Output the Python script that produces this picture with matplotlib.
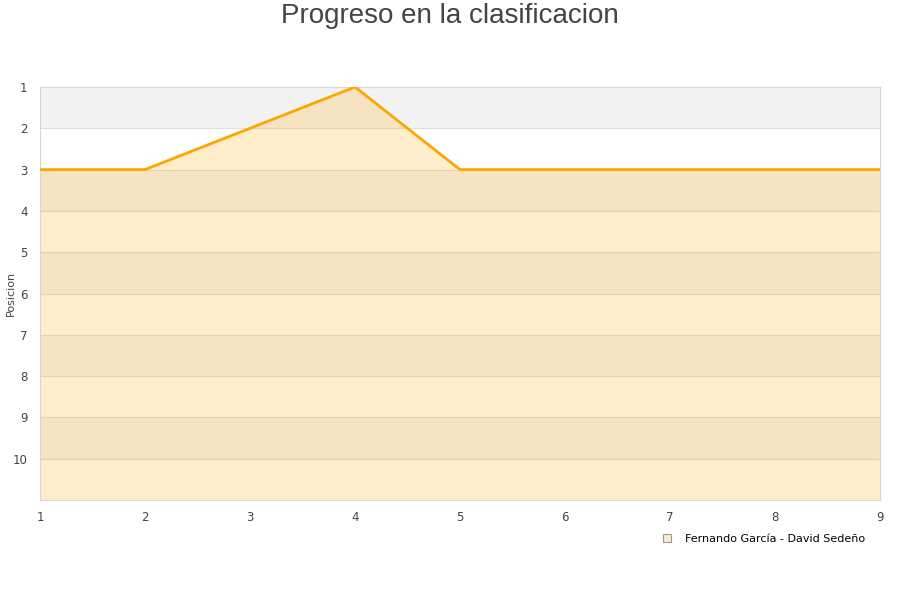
import matplotlib
matplotlib.use("Agg")
import matplotlib.pyplot as plt
from matplotlib.lines import Line2D

# data
jornadas = [1, 2, 3, 4, 5, 6, 7, 8, 9]
posicion = [3, 3, 2, 1, 3, 3, 3, 3, 3]
pareja = "Fernando García - David Sedeño"

ORANGE = "#FFA500"
GRID = "#dedede"
TEXT = "#444444"

fig = plt.figure(figsize=(9, 6), dpi=100)
ax = fig.add_axes([40 / 900, 100 / 600, 840 / 900, 413 / 600])

y_min, y_max = 1, 11
ax.set_xlim(jornadas[0], jornadas[-1])
ax.set_ylim(y_max, y_min)

# alternating horizontal bands
for lo in range(y_min, y_max):
    if (lo - y_min) % 2 == 0:
        ax.axhspan(lo, lo + 1, color="#f3f3f3", zorder=0, lw=0)

ax.set_yticks(range(1, 11))
ax.set_xticks(jornadas)
ax.grid(axis="y", color=GRID, lw=0.8, zorder=0.5)
ax.set_axisbelow(True)

ax.fill_between(jornadas, posicion, y_max, color=ORANGE, alpha=0.2, lw=0, zorder=1)
ax.plot(jornadas, posicion, color=ORANGE, lw=2.0, zorder=3, solid_joinstyle="miter")

for s in ax.spines.values():
    s.set_color("#d6d6d6")
    s.set_linewidth(0.8)
    s.set_zorder(2)
ax.tick_params(length=0, labelsize=8.5, colors=TEXT, pad=8)
ax.tick_params(axis="y", pad=9)

ax.set_ylabel("Posicion", fontsize=8, color=TEXT)
ax.yaxis.set_label_coords(-0.029, 0.5)
fig.text(0.5, 0.995, "Progreso en la clasificacion", ha="center", va="top",
         fontsize=20, color=TEXT, family="Liberation Sans")

handle = Line2D([], [], marker="s", ls="none", markersize=6,
                markerfacecolor="#fdeccb", markeredgecolor="#999999", markeredgewidth=0.8)
fig.legend([handle], [pareja], loc="upper right", bbox_to_anchor=(0.966, 0.118),
           frameon=False, fontsize=8, handletextpad=0.6, borderaxespad=0)

fig.savefig("out.png", dpi=100)
